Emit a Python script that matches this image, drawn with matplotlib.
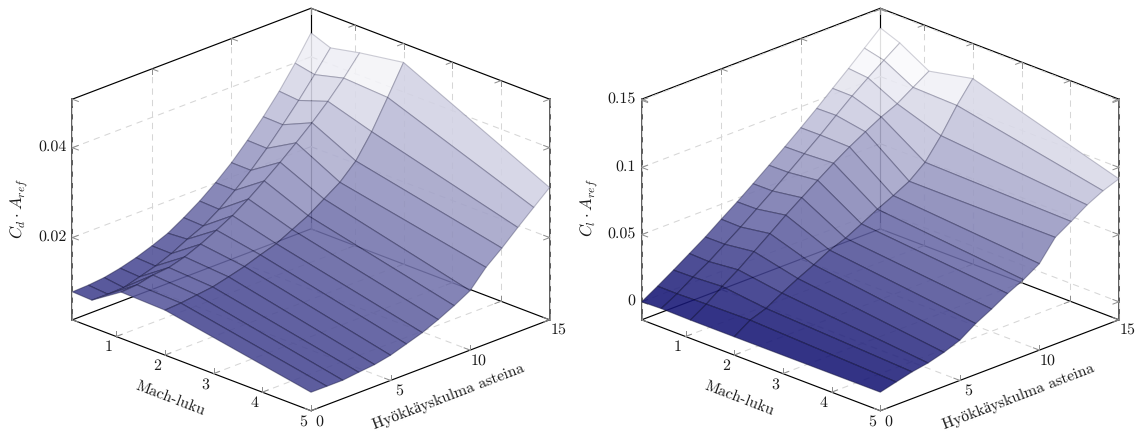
import numpy as np
import matplotlib
matplotlib.use('Agg')
import matplotlib.pyplot as plt
from matplotlib.colors import LinearSegmentedColormap, Normalize

plt.rcParams['font.family'] = ['cmr10', 'Liberation Serif']
plt.rcParams['mathtext.fontset'] = 'cm'
plt.rcParams['axes.formatter.use_mathtext'] = True
plt.rcParams['text.hinting'] = 'no_hinting'
plt.rcParams['text.color'] = '0.1'

mach = [0.1, 0.5, 1.1, 2, 5]
angle = list(range(16))

# drag, one list per mach number
cd_m01 = [.00792, .00806, .00841, .00914, .01014, .01141, .01288, .01499, .01734, .02008, .02317, .02679, .03070, .03503, .03992, .04532]
cd_m05 = [.00772, .00770, .00783, .00886, .00992, .01134, .01319, .01479, .01714, .02003, .02312, .02666, .03057, .03463, .03903, .04363]
cd_m11 = [.01199, .01226, .01308, .01341, .01443, .01592, .01768, .01957, .02192, .02459, .02739, .03037, .03348, .03690, .04072, .04501]
cd_m20 = [.01170, .01192, .01237, .01281, .01370, .01466, .01590, .01703, .01881, .02059, .02294, .02530, .02870, .03386, .04014, .04659]
cd_m50 = [.00581, .00579, .00579, .00621, .00657, .00730, .00846, .00963, .01119, .01294, .01492, .01877, .02170, .02494, .02806, .03114]

# lift
cl_m01 = [0, .0071, .0146, .0224, .0302, .0389, .0473, .0563, .0655, .0748, .0844, .0943, .1047, .1150, .1256, .1362]
cl_m05 = [.0005, .0070, .0149, .0219, .0303, .0386, .0475, .0564, .0657, .0751, .0845, .0946, .1045, .1135, .1221, .1305]
cl_m11 = [.0002, .0076, .0162, .0241, .0331, .0420, .0512, .0597, .0681, .0763, .0839, .0907, .0972, .1025, .1102, .1178]
cl_m20 = [.0002, .0081, .0123, .0192, .0255, .0312, .0376, .0420, .0481, .0545, .0601, .0663, .0759, .0912, .1092, .1247]
cl_m50 = [.0004, .0035, .0065, .0086, .0120, .0165, .0244, .0307, .0377, .0435, .0509, .0660, .0733, .0811, .0871, .0915]

x_ticks = [1, 2, 3, 4, 5]
y_ticks = [0, 5, 10, 15]
cd_ticks = [0.02, 0.04]
cd_tick_labels = ['0.02', '0.04']
cl_ticks = [0, 0.05, 0.1, 0.15]
cl_tick_labels = ['0', '0.05', '0.1', '0.15']

W, H = 1144, 437
S = 518.0  # side of the square 3d axes, pixels

cmap = LinearSegmentedColormap.from_list('surf', [(16/255, 16/255, 113/255, .88), (1, 1, 1, .88)])


def px(x, y):
    return x / W, 1 - y / H


def panel(fig, cx, values, zlim, vlim, zticks, zlabels, zname, dx):
    left = cx - 0.5135 * S
    bottom = (H - 209.5) - 0.5135 * S
    ax = fig.add_axes([left / W, bottom / H, S / W, S / H], projection='3d',
                      proj_type='ortho', computed_zorder=False)
    ax.view_init(elev=22.4, azim=-45)
    ax.set_box_aspect((338, 338, 239))
    ax.set_xlim(0.1, 5, view_margin=0)
    ax.set_ylim(0, 15, view_margin=0)
    ax.set_zlim(zlim[0], zlim[1], view_margin=0)
    ax.set_axis_off()

    x0, x1, y0, y1 = 0.1, 5, 0, 15
    z0, z1 = zlim
    grid = dict(color='0.84', lw=0.75, ls=(0, (6, 5)), zorder=3)

    # box, only the edges at the back
    box = dict(color='k', lw=0.85, zorder=2)
    ax.plot([x0, x1, x1, x0, x0], [y0, y0, y1, y1, y0], [z0] * 5, **box)
    ax.plot([x0, x0, x1], [y0, y1, y1], [z1] * 3, **box)
    ax.plot([x0, x0], [y1, y1], [z0, z1], **box)
    ax.plot([x0, x0], [y0, y0], [z0, z1], color='0.3', lw=1.3, zorder=2)
    ax.plot([x1, x1], [y1, y1], [z0, z1], color='0.3', lw=1.3, zorder=2)

    # dashed grid on the floor and the two back walls
    for t in x_ticks:
        ax.plot([t, t], [y1, y1], [z0, z1], **grid)
        if t < x1:
            ax.plot([t, t], [y0, y1], [z0, z0], **grid)
    for t in y_ticks:
        if t < y1:
            ax.plot([x0, x0], [t, t], [z0, z1], **grid)
        if 0 < t < y1:
            ax.plot([x0, x1], [t, t], [z0, z0], **grid)
    for t in zticks:
        ax.plot([x0, x0], [y0, y1], [t, t], **grid)
        ax.plot([x0, x1], [y1, y1], [t, t], **grid)

    # little gray ticks
    tx = 0.025 * (x1 - x0)
    ty = 0.025 * (y1 - y0)
    tz = 0.025 * (z1 - z0)
    tk = dict(color='0.55', lw=0.7, zorder=4)
    for t in x_ticks:
        ax.plot([t, t], [y0, y0], [z0, z0 + tz], **tk)
        ax.plot([t, t], [y0, y0 + ty], [z0, z0], **tk)
        ax.plot([t, t], [y1, y1], [z0, z0 + tz], **tk)
        ax.plot([t, t], [y1, y1 - ty], [z0, z0], **tk)
        ax.plot([t, t], [y1, y1], [z1, z1 - tz], **tk)
        ax.plot([t, t], [y1, y1 - ty], [z1, z1], **tk)
    for t in y_ticks:
        ax.plot([x0, x0 + tx], [t, t], [z0, z0], **tk)
        ax.plot([x0, x0], [t, t], [z0, z0 + tz], **tk)
        ax.plot([x1, x1 - tx], [t, t], [z0, z0], **tk)
        ax.plot([x1, x1], [t, t], [z0, z0 + tz], **tk)
        ax.plot([x0, x0], [t, t], [z1, z1 - tz], **tk)
        ax.plot([x0, x0 + tx], [t, t], [z1, z1], **tk)
    for t in zticks:
        ax.plot([x0, x0 + tx], [y0, y0], [t, t], **tk)
        ax.plot([x0, x0], [y0, y0 + ty], [t, t], **tk)
        ax.plot([x0, x0 + tx], [y1, y1], [t, t], **tk)
        ax.plot([x0, x0], [y1, y1 - ty], [t, t], **tk)
        ax.plot([x1, x1 - tx], [y1, y1], [t, t], **tk)
        ax.plot([x1, x1], [y1, y1 - ty], [t, t], **tk)

    X, Y = np.meshgrid(mach, angle, indexing='ij')
    Z = np.array(values)
    norm = Normalize(vlim[0], vlim[1])
    surf = ax.plot_surface(X, Y, Z, rstride=1, cstride=1, cmap=cmap, norm=norm,
                           linewidth=0.8, antialiased=True, zorder=5)
    # mesh lines are stronger where the surface is dark
    zmean = (Z[:-1, :-1] + Z[1:, :-1] + Z[:-1, 1:] + Z[1:, 1:]).ravel() / 4
    edges = np.zeros((zmean.size, 4))
    edges[:, :3] = (0.05, 0.05, 0.2)
    edges[:, 3] = 0.48 - 0.3 * np.clip(norm(zmean), 0, 1)
    surf.set_edgecolor(edges)

    # texts in pixels
    fs = 11.5
    for t in x_ticks:
        xp = cx - 238.5 + 48.7 * (t - 0.1) - 8
        yp = 319 + 18.6 * (t - 0.1) + 11.7
        fig.text(*px(xp, yp), str(t), ha='center', va='center', fontsize=fs)
    for t in y_ticks:
        xp = cx + 15.95 * t + 8
        yp = 409.5 - 6.07 * t + 11.7
        fig.text(*px(xp, yp), str(t), ha='center', va='center', fontsize=fs)
    scale = 221.0 / (z1 - z0)
    for t, lab in zip(zticks, zlabels):
        fig.text(*px(cx - 238.5 - 6, 319 - (t - z0) * scale), lab, ha='right',
                 va='center', fontsize=fs)
    fig.text(*px(cx - 141, 399), 'Mach-luku', ha='center', va='center', fontsize=11.3,
             rotation=-21, rotation_mode='anchor')
    fig.text(*px(cx + 138, 398), 'Hyökkäyskulma asteina', ha='center', va='center',
             fontsize=11.3, rotation=21, rotation_mode='anchor')
    fig.text(*px(cx - dx, 208), zname, ha='center', va='center', fontsize=12,
             rotation=90, rotation_mode='anchor')
    return ax


fig = plt.figure(figsize=(W / 100, H / 100), dpi=100)

panel(fig, 311, [cd_m01, cd_m05, cd_m11, cd_m20, cd_m50], (0.0017, 0.0508),
      (-0.002, 0.0455), cd_ticks, cd_tick_labels, r'$C_d\cdot A_{ref}$', 292)
panel(fig, 880.3, [cl_m01, cl_m05, cl_m11, cl_m20, cl_m50], (-0.0134, 0.1508),
      (0, 0.123), cl_ticks, cl_tick_labels, r'$C_l\cdot A_{ref}$', 291)

fig.savefig('out.png', dpi=100)
